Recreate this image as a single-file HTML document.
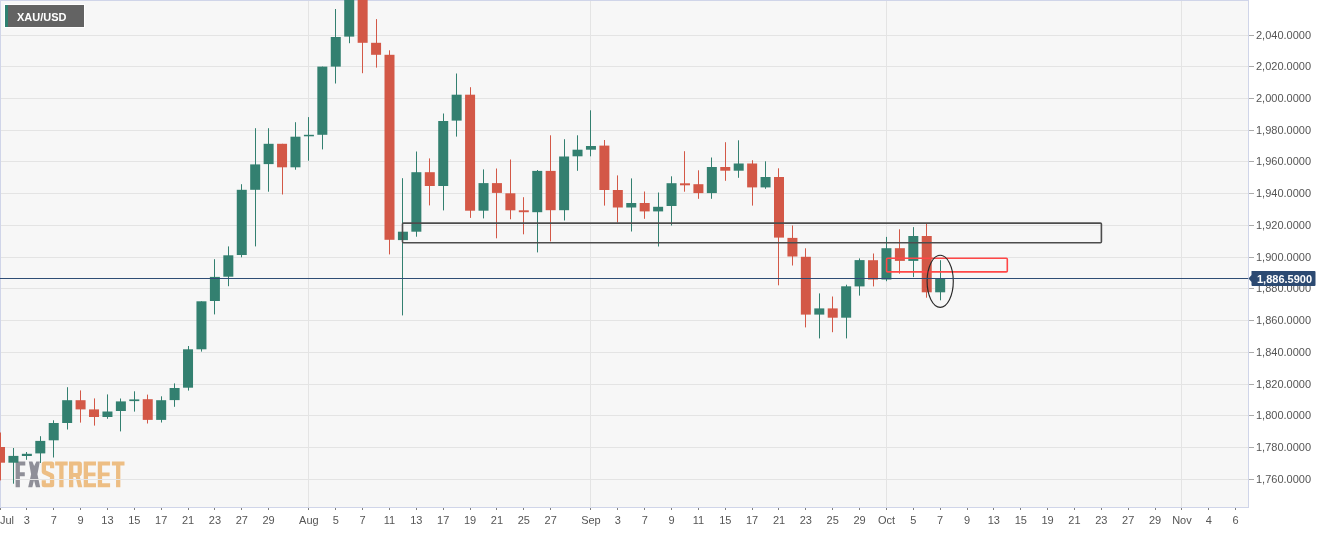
<!DOCTYPE html>
<html><head><meta charset="utf-8">
<style>
html,body{margin:0;padding:0;background:#fff;width:1319px;height:533px;overflow:hidden}
svg{display:block}
text{font-family:"Liberation Sans",sans-serif}
svg{will-change:transform}
.ax{font-size:11px;fill:#555555}
.pl{font-size:11px;fill:#fff;font-weight:bold}
.lb{font-size:11px;fill:#fff;font-weight:bold}
</style></head><body>
<svg width="1319" height="533" viewBox="0 0 1319 533">
<rect x="0" y="0" width="1248" height="507" fill="#f7f7f7"/>
<path d="M15.6,461.4 H25.3 V465.6 H19.9 V472.3 H24.8 V476.3 H19.9 V487.3 H15.6 Z" fill="#8f8f98" fill-rule="evenodd"/>
<path d="M28.8,461.4 H32.4 L34.2,466.0 L36.3,461.4 H39.9 L37.4,474.3 L40.2,487.3 H35.9 L34.0,480.2 L32.3,487.3 H28.2 L31.1,474.3 Z" fill="#8f8f98" fill-rule="evenodd"/>
<path d="M44.2,461.4 H51.7 Q54.2,461.4 54.2,463.9 V468.2 H50.0 V465.5 H46.0 V470.6 L52.6,473.6 Q54.2,474.3 54.2,476.2 V484.8 Q54.2,487.3 51.7,487.3 H44.2 Q41.7,487.3 41.7,484.8 V480.3 H45.900000000000006 V483.3 H49.900000000000006 V477.3 L43.300000000000004,474.3 Q41.7,473.6 41.7,471.8 V463.9 Q41.7,461.4 44.2,461.4 Z" fill="#edbe84" fill-rule="evenodd"/>
<path d="M55.1,461.4 H67.7 V465.5 H63.550000000000004 V487.3 H59.25000000000001 V465.5 H55.1 Z" fill="#edbe84" fill-rule="evenodd"/>
<path d="M69.0,461.4 H79.4 Q81.9,461.4 81.9,463.9 V472.6 Q81.9,475.4 79.8,476.4 L82.3,487.3 H78.0 L75.6,477.0 H73.3 V487.3 H69.0 Z M73.3,465.5 V473.0 H77.6 V465.5 Z" fill="#edbe84" fill-rule="evenodd"/>
<path d="M83.7,461.4 H96.0 V465.5 H88.0 V472.4 H95.5 V476.3 H88.0 V483.3 H96.0 V487.3 H83.7 Z" fill="#edbe84" fill-rule="evenodd"/>
<path d="M97.8,461.4 H110.1 V465.5 H102.1 V472.4 H109.6 V476.3 H102.1 V483.3 H110.1 V487.3 H97.8 Z" fill="#edbe84" fill-rule="evenodd"/>
<path d="M111.9,461.4 H124.5 V465.5 H120.35000000000001 V487.3 H116.05 V465.5 H111.9 Z" fill="#edbe84" fill-rule="evenodd"/>
<rect x="1" y="35" width="1247" height="1" fill="#e4e4e4"/>
<rect x="1" y="66" width="1247" height="1" fill="#e4e4e4"/>
<rect x="1" y="98" width="1247" height="1" fill="#e4e4e4"/>
<rect x="1" y="130" width="1247" height="1" fill="#e4e4e4"/>
<rect x="1" y="161" width="1247" height="1" fill="#e4e4e4"/>
<rect x="1" y="193" width="1247" height="1" fill="#e4e4e4"/>
<rect x="1" y="225" width="1247" height="1" fill="#e4e4e4"/>
<rect x="1" y="257" width="1247" height="1" fill="#e4e4e4"/>
<rect x="1" y="288" width="1247" height="1" fill="#e4e4e4"/>
<rect x="1" y="320" width="1247" height="1" fill="#e4e4e4"/>
<rect x="1" y="352" width="1247" height="1" fill="#e4e4e4"/>
<rect x="1" y="384" width="1247" height="1" fill="#e4e4e4"/>
<rect x="1" y="415" width="1247" height="1" fill="#e4e4e4"/>
<rect x="1" y="447" width="1247" height="1" fill="#e4e4e4"/>
<rect x="1" y="479" width="1247" height="1" fill="#e4e4e4"/>
<rect x="308" y="1" width="1" height="506" fill="#e4e4e4"/>
<rect x="590" y="1" width="1" height="506" fill="#e4e4e4"/>
<rect x="886" y="1" width="1" height="506" fill="#e4e4e4"/>
<rect x="1181" y="1" width="1" height="506" fill="#e4e4e4"/>
<rect x="0" y="0" width="1249" height="1" fill="#d0d5e9"/>
<rect x="0" y="0" width="1" height="508" fill="#d0d5e9"/>
<rect x="1248" y="0" width="1" height="508" fill="#d0d5e9"/>
<rect x="0" y="507" width="1249" height="1" fill="#d0d5e9"/>
<rect x="0" y="432.5" width="1" height="47.90" fill="#d35847"/>
<rect x="-5.00" y="447.0" width="10" height="15.70" fill="#d35847"/>
<rect x="13" y="448.0" width="1" height="35.70" fill="#338070"/>
<rect x="8.43" y="455.9" width="10" height="6.80" fill="#338070"/>
<rect x="26" y="452.0" width="1" height="7.80" fill="#338070"/>
<rect x="21.86" y="453.8" width="10" height="2.20" fill="#338070"/>
<rect x="40" y="436.2" width="1" height="26.80" fill="#338070"/>
<rect x="35.29" y="440.9" width="10" height="12.50" fill="#338070"/>
<rect x="53" y="420.3" width="1" height="37.20" fill="#338070"/>
<rect x="48.72" y="423.0" width="10" height="17.30" fill="#338070"/>
<rect x="67" y="387.2" width="1" height="42.30" fill="#338070"/>
<rect x="62.16" y="400.2" width="10" height="22.80" fill="#338070"/>
<rect x="80" y="390.4" width="1" height="32.20" fill="#d35847"/>
<rect x="75.59" y="400.2" width="10" height="9.20" fill="#d35847"/>
<rect x="94" y="398.4" width="1" height="27.20" fill="#d35847"/>
<rect x="89.02" y="409.4" width="10" height="7.60" fill="#d35847"/>
<rect x="107" y="394.4" width="1" height="24.40" fill="#338070"/>
<rect x="102.45" y="411.5" width="10" height="5.50" fill="#338070"/>
<rect x="120" y="398.5" width="1" height="32.90" fill="#338070"/>
<rect x="115.88" y="401.4" width="10" height="9.60" fill="#338070"/>
<rect x="134" y="391.3" width="1" height="20.30" fill="#338070"/>
<rect x="129.31" y="399.4" width="10" height="1.70" fill="#338070"/>
<rect x="147" y="394.6" width="1" height="28.90" fill="#d35847"/>
<rect x="142.74" y="399.2" width="10" height="20.70" fill="#d35847"/>
<rect x="161" y="396.3" width="1" height="26.20" fill="#338070"/>
<rect x="156.17" y="400.2" width="10" height="19.70" fill="#338070"/>
<rect x="174" y="383.4" width="1" height="23.40" fill="#338070"/>
<rect x="169.60" y="388.0" width="10" height="12.10" fill="#338070"/>
<rect x="188" y="346.0" width="1" height="44.60" fill="#338070"/>
<rect x="183.03" y="349.3" width="10" height="38.40" fill="#338070"/>
<rect x="201" y="301.3" width="1" height="50.30" fill="#338070"/>
<rect x="196.46" y="301.3" width="10" height="48.00" fill="#338070"/>
<rect x="214" y="259.2" width="1" height="55.20" fill="#338070"/>
<rect x="209.90" y="276.9" width="10" height="24.10" fill="#338070"/>
<rect x="228" y="246.4" width="1" height="39.80" fill="#338070"/>
<rect x="223.33" y="255.3" width="10" height="21.40" fill="#338070"/>
<rect x="241" y="184.2" width="1" height="73.10" fill="#338070"/>
<rect x="236.76" y="189.8" width="10" height="65.20" fill="#338070"/>
<rect x="255" y="128.2" width="1" height="118.20" fill="#338070"/>
<rect x="250.19" y="164.4" width="10" height="25.40" fill="#338070"/>
<rect x="268" y="128.2" width="1" height="63.50" fill="#338070"/>
<rect x="263.62" y="143.8" width="10" height="20.30" fill="#338070"/>
<rect x="282" y="143.8" width="1" height="50.70" fill="#d35847"/>
<rect x="277.05" y="143.8" width="10" height="23.50" fill="#d35847"/>
<rect x="295" y="122.2" width="1" height="47.50" fill="#338070"/>
<rect x="290.48" y="136.7" width="10" height="30.60" fill="#338070"/>
<rect x="308" y="117.1" width="1" height="43.60" fill="#338070"/>
<rect x="303.91" y="134.8" width="10" height="1.50" fill="#338070"/>
<rect x="322" y="66.6" width="1" height="82.80" fill="#338070"/>
<rect x="317.34" y="66.6" width="10" height="68.20" fill="#338070"/>
<rect x="335" y="9.0" width="1" height="74.50" fill="#338070"/>
<rect x="330.77" y="37.0" width="10" height="29.60" fill="#338070"/>
<rect x="349" y="0.0" width="1" height="43.20" fill="#338070"/>
<rect x="344.21" y="0.0" width="10" height="36.60" fill="#338070"/>
<rect x="362" y="0.0" width="1" height="73.20" fill="#d35847"/>
<rect x="357.64" y="0.0" width="10" height="42.80" fill="#d35847"/>
<rect x="376" y="19.1" width="1" height="48.50" fill="#d35847"/>
<rect x="371.07" y="42.8" width="10" height="12.00" fill="#d35847"/>
<rect x="389" y="50.3" width="1" height="204.10" fill="#d35847"/>
<rect x="384.50" y="54.8" width="10" height="185.00" fill="#d35847"/>
<rect x="402" y="178.2" width="1" height="137.20" fill="#338070"/>
<rect x="397.93" y="231.7" width="10" height="8.40" fill="#338070"/>
<rect x="416" y="151.5" width="1" height="85.20" fill="#338070"/>
<rect x="411.36" y="172.2" width="10" height="59.50" fill="#338070"/>
<rect x="429" y="158.4" width="1" height="47.00" fill="#d35847"/>
<rect x="424.79" y="172.2" width="10" height="13.80" fill="#d35847"/>
<rect x="443" y="113.5" width="1" height="96.90" fill="#338070"/>
<rect x="438.22" y="121.0" width="10" height="65.00" fill="#338070"/>
<rect x="456" y="73.5" width="1" height="63.10" fill="#338070"/>
<rect x="451.65" y="94.7" width="10" height="25.90" fill="#338070"/>
<rect x="470" y="87.2" width="1" height="130.70" fill="#d35847"/>
<rect x="465.08" y="94.7" width="10" height="116.00" fill="#d35847"/>
<rect x="483" y="169.4" width="1" height="49.00" fill="#338070"/>
<rect x="478.52" y="183.1" width="10" height="27.60" fill="#338070"/>
<rect x="496" y="168.5" width="1" height="69.80" fill="#d35847"/>
<rect x="491.95" y="183.1" width="10" height="9.80" fill="#d35847"/>
<rect x="510" y="159.5" width="1" height="59.80" fill="#d35847"/>
<rect x="505.38" y="193.3" width="10" height="17.00" fill="#d35847"/>
<rect x="523" y="197.2" width="1" height="37.10" fill="#d35847"/>
<rect x="518.81" y="210.3" width="10" height="1.90" fill="#d35847"/>
<rect x="537" y="170.0" width="1" height="82.40" fill="#338070"/>
<rect x="532.24" y="170.9" width="10" height="41.30" fill="#338070"/>
<rect x="550" y="135.3" width="1" height="106.10" fill="#d35847"/>
<rect x="545.67" y="170.9" width="10" height="39.30" fill="#d35847"/>
<rect x="564" y="139.2" width="1" height="81.30" fill="#338070"/>
<rect x="559.10" y="156.5" width="10" height="53.70" fill="#338070"/>
<rect x="577" y="135.3" width="1" height="35.50" fill="#338070"/>
<rect x="572.53" y="149.7" width="10" height="6.60" fill="#338070"/>
<rect x="590" y="110.3" width="1" height="46.00" fill="#338070"/>
<rect x="585.96" y="146.0" width="10" height="3.70" fill="#338070"/>
<rect x="604" y="140.0" width="1" height="65.60" fill="#d35847"/>
<rect x="599.39" y="145.6" width="10" height="44.40" fill="#d35847"/>
<rect x="617" y="175.4" width="1" height="47.10" fill="#d35847"/>
<rect x="612.83" y="190.0" width="10" height="17.50" fill="#d35847"/>
<rect x="631" y="178.4" width="1" height="53.10" fill="#338070"/>
<rect x="626.26" y="203.0" width="10" height="4.50" fill="#338070"/>
<rect x="644" y="191.5" width="1" height="27.30" fill="#d35847"/>
<rect x="639.69" y="203.0" width="10" height="8.40" fill="#d35847"/>
<rect x="658" y="192.5" width="1" height="54.00" fill="#338070"/>
<rect x="653.12" y="206.8" width="10" height="4.60" fill="#338070"/>
<rect x="671" y="176.3" width="1" height="49.20" fill="#338070"/>
<rect x="666.55" y="183.2" width="10" height="22.80" fill="#338070"/>
<rect x="684" y="151.2" width="1" height="40.50" fill="#d35847"/>
<rect x="679.98" y="183.3" width="10" height="2.00" fill="#d35847"/>
<rect x="698" y="170.3" width="1" height="28.50" fill="#d35847"/>
<rect x="693.41" y="184.2" width="10" height="8.90" fill="#d35847"/>
<rect x="711" y="157.5" width="1" height="41.30" fill="#338070"/>
<rect x="706.84" y="167.0" width="10" height="26.10" fill="#338070"/>
<rect x="725" y="142.2" width="1" height="38.60" fill="#d35847"/>
<rect x="720.27" y="167.0" width="10" height="3.70" fill="#d35847"/>
<rect x="738" y="140.3" width="1" height="37.50" fill="#338070"/>
<rect x="733.70" y="163.5" width="10" height="7.20" fill="#338070"/>
<rect x="752" y="160.2" width="1" height="45.40" fill="#d35847"/>
<rect x="747.14" y="163.5" width="10" height="23.90" fill="#d35847"/>
<rect x="765" y="161.3" width="1" height="27.50" fill="#338070"/>
<rect x="760.57" y="177.0" width="10" height="10.40" fill="#338070"/>
<rect x="778" y="168.3" width="1" height="117.00" fill="#d35847"/>
<rect x="774.00" y="177.0" width="10" height="60.60" fill="#d35847"/>
<rect x="792" y="225.5" width="1" height="40.00" fill="#d35847"/>
<rect x="787.43" y="237.9" width="10" height="18.60" fill="#d35847"/>
<rect x="805" y="248.3" width="1" height="79.10" fill="#d35847"/>
<rect x="800.86" y="256.8" width="10" height="57.80" fill="#d35847"/>
<rect x="819" y="293.4" width="1" height="45.00" fill="#338070"/>
<rect x="814.29" y="308.4" width="10" height="6.20" fill="#338070"/>
<rect x="832" y="296.5" width="1" height="35.70" fill="#d35847"/>
<rect x="827.72" y="308.4" width="10" height="9.30" fill="#d35847"/>
<rect x="846" y="284.7" width="1" height="53.70" fill="#338070"/>
<rect x="841.15" y="286.3" width="10" height="31.40" fill="#338070"/>
<rect x="859" y="258.4" width="1" height="37.20" fill="#338070"/>
<rect x="854.58" y="260.1" width="10" height="26.30" fill="#338070"/>
<rect x="873" y="253.5" width="1" height="32.90" fill="#d35847"/>
<rect x="868.01" y="260.2" width="10" height="19.30" fill="#d35847"/>
<rect x="886" y="236.9" width="1" height="44.30" fill="#338070"/>
<rect x="881.45" y="248.2" width="10" height="31.30" fill="#338070"/>
<rect x="899" y="229.3" width="1" height="44.40" fill="#d35847"/>
<rect x="894.88" y="248.2" width="10" height="12.70" fill="#d35847"/>
<rect x="913" y="227.1" width="1" height="50.00" fill="#338070"/>
<rect x="908.31" y="236.0" width="10" height="24.90" fill="#338070"/>
<rect x="926" y="223.4" width="1" height="74.30" fill="#d35847"/>
<rect x="921.74" y="236.0" width="10" height="56.30" fill="#d35847"/>
<rect x="940" y="260.2" width="1" height="40.10" fill="#338070"/>
<rect x="935.17" y="278.8" width="10" height="13.50" fill="#338070"/>
<rect x="402.5" y="223.1" width="698.9" height="19.6" rx="1" fill="none" stroke="#4d4d4d" stroke-width="1.6"/>
<rect x="886.6" y="258.3" width="120.7" height="13.6" rx="1" fill="none" stroke="#ff4747" stroke-width="1.6"/>
<ellipse cx="940.2" cy="281.3" rx="13.1" ry="26" fill="none" stroke="#2a2a2a" stroke-width="1.15"/>
<rect x="0" y="278" width="1248" height="1" fill="#2f4d75"/>
<rect x="1249" y="35" width="5" height="1" fill="#aaaaaa"/>
<text x="1256" y="39.2" class="ax">2,040.0000</text>
<rect x="1249" y="66" width="5" height="1" fill="#aaaaaa"/>
<text x="1256" y="70.2" class="ax">2,020.0000</text>
<rect x="1249" y="98" width="5" height="1" fill="#aaaaaa"/>
<text x="1256" y="102.2" class="ax">2,000.0000</text>
<rect x="1249" y="130" width="5" height="1" fill="#aaaaaa"/>
<text x="1256" y="134.2" class="ax">1,980.0000</text>
<rect x="1249" y="161" width="5" height="1" fill="#aaaaaa"/>
<text x="1256" y="165.2" class="ax">1,960.0000</text>
<rect x="1249" y="193" width="5" height="1" fill="#aaaaaa"/>
<text x="1256" y="197.2" class="ax">1,940.0000</text>
<rect x="1249" y="225" width="5" height="1" fill="#aaaaaa"/>
<text x="1256" y="229.2" class="ax">1,920.0000</text>
<rect x="1249" y="257" width="5" height="1" fill="#aaaaaa"/>
<text x="1256" y="261.2" class="ax">1,900.0000</text>
<rect x="1249" y="288" width="5" height="1" fill="#aaaaaa"/>
<text x="1256" y="292.2" class="ax">1,880.0000</text>
<rect x="1249" y="320" width="5" height="1" fill="#aaaaaa"/>
<text x="1256" y="324.2" class="ax">1,860.0000</text>
<rect x="1249" y="352" width="5" height="1" fill="#aaaaaa"/>
<text x="1256" y="356.2" class="ax">1,840.0000</text>
<rect x="1249" y="384" width="5" height="1" fill="#aaaaaa"/>
<text x="1256" y="388.2" class="ax">1,820.0000</text>
<rect x="1249" y="415" width="5" height="1" fill="#aaaaaa"/>
<text x="1256" y="419.2" class="ax">1,800.0000</text>
<rect x="1249" y="447" width="5" height="1" fill="#aaaaaa"/>
<text x="1256" y="451.2" class="ax">1,780.0000</text>
<rect x="1249" y="479" width="5" height="1" fill="#aaaaaa"/>
<text x="1256" y="483.2" class="ax">1,760.0000</text>
<rect x="0" y="508" width="1" height="2" fill="#808080"/>
<text x="0" y="524" class="ax">Jul</text>
<rect x="26" y="508" width="1" height="2" fill="#808080"/>
<text x="26.86" y="524" class="ax" text-anchor="middle">3</text>
<rect x="53" y="508" width="1" height="2" fill="#808080"/>
<text x="53.72" y="524" class="ax" text-anchor="middle">7</text>
<rect x="80" y="508" width="1" height="2" fill="#808080"/>
<text x="80.59" y="524" class="ax" text-anchor="middle">9</text>
<rect x="107" y="508" width="1" height="2" fill="#808080"/>
<text x="107.45" y="524" class="ax" text-anchor="middle">13</text>
<rect x="134" y="508" width="1" height="2" fill="#808080"/>
<text x="134.31" y="524" class="ax" text-anchor="middle">15</text>
<rect x="161" y="508" width="1" height="2" fill="#808080"/>
<text x="161.17" y="524" class="ax" text-anchor="middle">17</text>
<rect x="188" y="508" width="1" height="2" fill="#808080"/>
<text x="188.03" y="524" class="ax" text-anchor="middle">21</text>
<rect x="214" y="508" width="1" height="2" fill="#808080"/>
<text x="214.90" y="524" class="ax" text-anchor="middle">23</text>
<rect x="241" y="508" width="1" height="2" fill="#808080"/>
<text x="241.76" y="524" class="ax" text-anchor="middle">27</text>
<rect x="268" y="508" width="1" height="2" fill="#808080"/>
<text x="268.62" y="524" class="ax" text-anchor="middle">29</text>
<rect x="308" y="508" width="1" height="2" fill="#808080"/>
<text x="308.91" y="524" class="ax" text-anchor="middle">Aug</text>
<rect x="335" y="508" width="1" height="2" fill="#808080"/>
<text x="335.77" y="524" class="ax" text-anchor="middle">5</text>
<rect x="362" y="508" width="1" height="2" fill="#808080"/>
<text x="362.64" y="524" class="ax" text-anchor="middle">7</text>
<rect x="389" y="508" width="1" height="2" fill="#808080"/>
<text x="389.50" y="524" class="ax" text-anchor="middle">11</text>
<rect x="416" y="508" width="1" height="2" fill="#808080"/>
<text x="416.36" y="524" class="ax" text-anchor="middle">13</text>
<rect x="443" y="508" width="1" height="2" fill="#808080"/>
<text x="443.22" y="524" class="ax" text-anchor="middle">17</text>
<rect x="470" y="508" width="1" height="2" fill="#808080"/>
<text x="470.08" y="524" class="ax" text-anchor="middle">19</text>
<rect x="496" y="508" width="1" height="2" fill="#808080"/>
<text x="496.95" y="524" class="ax" text-anchor="middle">21</text>
<rect x="523" y="508" width="1" height="2" fill="#808080"/>
<text x="523.81" y="524" class="ax" text-anchor="middle">25</text>
<rect x="550" y="508" width="1" height="2" fill="#808080"/>
<text x="550.67" y="524" class="ax" text-anchor="middle">27</text>
<rect x="590" y="508" width="1" height="2" fill="#808080"/>
<text x="590.96" y="524" class="ax" text-anchor="middle">Sep</text>
<rect x="617" y="508" width="1" height="2" fill="#808080"/>
<text x="617.83" y="524" class="ax" text-anchor="middle">3</text>
<rect x="644" y="508" width="1" height="2" fill="#808080"/>
<text x="644.69" y="524" class="ax" text-anchor="middle">7</text>
<rect x="671" y="508" width="1" height="2" fill="#808080"/>
<text x="671.55" y="524" class="ax" text-anchor="middle">9</text>
<rect x="698" y="508" width="1" height="2" fill="#808080"/>
<text x="698.41" y="524" class="ax" text-anchor="middle">11</text>
<rect x="725" y="508" width="1" height="2" fill="#808080"/>
<text x="725.27" y="524" class="ax" text-anchor="middle">15</text>
<rect x="752" y="508" width="1" height="2" fill="#808080"/>
<text x="752.14" y="524" class="ax" text-anchor="middle">17</text>
<rect x="778" y="508" width="1" height="2" fill="#808080"/>
<text x="779.00" y="524" class="ax" text-anchor="middle">21</text>
<rect x="805" y="508" width="1" height="2" fill="#808080"/>
<text x="805.86" y="524" class="ax" text-anchor="middle">23</text>
<rect x="832" y="508" width="1" height="2" fill="#808080"/>
<text x="832.72" y="524" class="ax" text-anchor="middle">25</text>
<rect x="859" y="508" width="1" height="2" fill="#808080"/>
<text x="859.58" y="524" class="ax" text-anchor="middle">29</text>
<rect x="886" y="508" width="1" height="2" fill="#808080"/>
<text x="886.45" y="524" class="ax" text-anchor="middle">Oct</text>
<rect x="913" y="508" width="1" height="2" fill="#808080"/>
<text x="913.31" y="524" class="ax" text-anchor="middle">5</text>
<rect x="940" y="508" width="1" height="2" fill="#808080"/>
<text x="940.17" y="524" class="ax" text-anchor="middle">7</text>
<rect x="967" y="508" width="1" height="2" fill="#808080"/>
<text x="967.03" y="524" class="ax" text-anchor="middle">9</text>
<rect x="993" y="508" width="1" height="2" fill="#808080"/>
<text x="993.89" y="524" class="ax" text-anchor="middle">13</text>
<rect x="1020" y="508" width="1" height="2" fill="#808080"/>
<text x="1020.76" y="524" class="ax" text-anchor="middle">15</text>
<rect x="1047" y="508" width="1" height="2" fill="#808080"/>
<text x="1047.62" y="524" class="ax" text-anchor="middle">19</text>
<rect x="1074" y="508" width="1" height="2" fill="#808080"/>
<text x="1074.48" y="524" class="ax" text-anchor="middle">21</text>
<rect x="1101" y="508" width="1" height="2" fill="#808080"/>
<text x="1101.34" y="524" class="ax" text-anchor="middle">23</text>
<rect x="1128" y="508" width="1" height="2" fill="#808080"/>
<text x="1128.20" y="524" class="ax" text-anchor="middle">27</text>
<rect x="1155" y="508" width="1" height="2" fill="#808080"/>
<text x="1155.07" y="524" class="ax" text-anchor="middle">29</text>
<rect x="1181" y="508" width="1" height="2" fill="#808080"/>
<text x="1181.93" y="524" class="ax" text-anchor="middle">Nov</text>
<rect x="1208" y="508" width="1" height="2" fill="#808080"/>
<text x="1208.79" y="524" class="ax" text-anchor="middle">4</text>
<rect x="1235" y="508" width="1" height="2" fill="#808080"/>
<text x="1235.65" y="524" class="ax" text-anchor="middle">6</text>
<path d="M1248.5,278.5 L1251.5,275 V271 Q1251.5,271 1252.5,271 H1314.5 Q1315.5,271 1315.5,272 V285 Q1315.5,286 1314.5,286 H1252.5 Q1251.5,286 1251.5,285 V282 Z" fill="#2c4a72"/>
<text x="1257" y="282.5" class="pl">1,886.5900</text>
<rect x="4" y="4" width="81" height="24" fill="#ffffff"/>
<rect x="5" y="5" width="79" height="22" fill="#636363"/>
<rect x="5" y="5" width="3" height="22" fill="#2e8070"/>
<text x="17" y="20.5" class="lb">XAU/USD</text>
</svg>
</body></html>
